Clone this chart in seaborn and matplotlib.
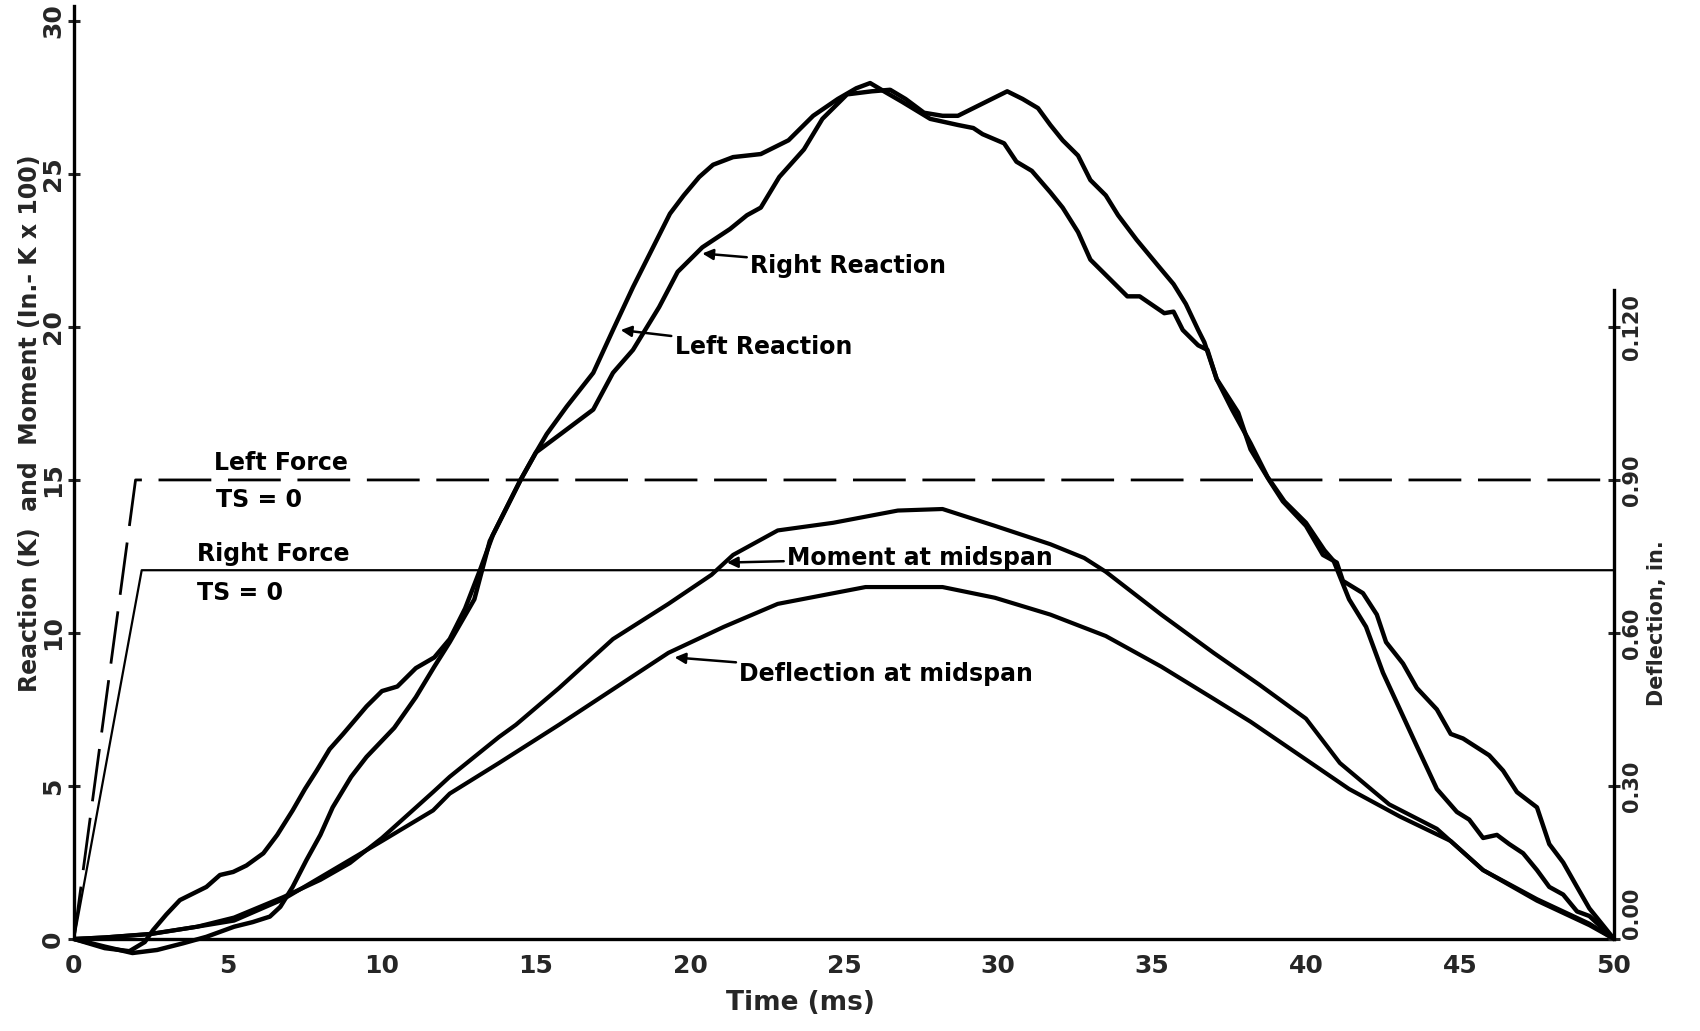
import matplotlib
matplotlib.use('Agg')
import matplotlib.pyplot as plt
import seaborn as sns
import numpy as np

sns.set_style("white")
plt.rcParams['font.family'] = ['DejaVu Sans']

# ── data ───────────────────────────────────────────────────
# time in ms, reactions / moment on left scale (K and In.-K x 100)
left_t = [0, 1.0, 1.8, 2.3, 2.57, 3.0, 3.44, 4.3, 4.74, 5.17, 5.6, 6.15, 6.6, 7.1, 7.5,
          7.88, 8.3, 8.74, 9.5, 10.0, 10.5, 11.1, 11.7, 12.2, 12.7, 13.2, 13.6, 14.5, 15.0,
          15.35, 16.0, 16.86, 17.5, 18.15, 18.6, 19.35, 19.8, 20.3, 20.75, 21.4, 22.3, 23.2,
          24.0, 24.8, 25.4, 25.85, 26.3, 26.9, 27.8, 28.7, 29.2, 29.5, 30.2, 30.6, 31.1,
          31.7, 32.1, 32.6, 33.0, 33.6, 34.2, 34.6, 35.4, 35.7, 36.0, 36.5, 36.8, 37.1,
          37.6, 38.2, 38.75, 39.3, 40.0, 40.6, 40.9, 41.4, 41.95, 42.5, 43.05, 43.6, 44.25,
          44.9, 45.3, 45.75, 46.2, 46.6, 47.05, 47.5, 47.9, 48.35, 48.8, 49.2, 50]
left_reaction = [0, -0.3, -0.4, -0.1, 0.29, 0.8, 1.27, 1.7, 2.09, 2.19, 2.4, 2.8, 3.4, 4.2,
                 4.9, 5.5, 6.2, 6.7, 7.6, 8.1, 8.25, 8.85, 9.2, 9.8, 10.8, 12.1, 13.2, 15.0,
                 15.9, 16.5, 17.4, 18.5, 19.9, 21.3, 22.2, 23.7, 24.3, 24.9, 25.3, 25.55,
                 25.65, 26.1, 26.9, 27.45, 27.8, 27.97, 27.7, 27.35, 26.8, 26.6, 26.5, 26.3,
                 26.0, 25.4, 25.1, 24.4, 23.9, 23.1, 22.2, 21.6, 21.0, 21.0, 20.45, 20.5,
                 19.9, 19.4, 19.25, 18.3, 17.3, 16.2, 15.1, 14.3, 13.6, 12.7, 12.35, 11.1,
                 10.2, 8.7, 7.5, 6.3, 4.9, 4.15, 3.9, 3.3, 3.4, 3.1, 2.8, 2.25, 1.7, 1.45,
                 0.9, 0.75, 0]

right_t = [0, 1.0, 1.9, 2.7, 3.55, 4.3, 5.2, 5.8, 6.36, 6.7, 7.1, 7.55, 8.0, 8.4, 9.0, 9.5,
           10.4, 11.1, 11.7, 12.2, 13.0, 13.5, 14.5, 15.0, 15.8, 16.86, 17.5, 18.15, 19.0,
           19.6, 20.4, 21.3, 21.85, 22.3, 22.9, 23.7, 24.3, 25.1, 25.9, 26.5, 27.0, 27.6,
           28.2, 28.7, 29.1, 29.7, 30.3, 30.8, 31.3, 31.7, 32.1, 32.6, 33.0, 33.5, 33.9,
           34.5, 35.2, 35.7, 36.1, 36.5, 36.7, 37.1, 37.8, 38.2, 38.8, 39.25, 40.0, 40.55,
           41.0, 41.2, 41.85, 42.3, 42.6, 43.15, 43.6, 44.25, 44.7, 45.1, 45.95, 46.4, 46.85,
           47.5, 47.9, 48.35, 48.8, 49.2, 50]
right_reaction = [0, -0.25, -0.46, -0.36, -0.14, 0.07, 0.4, 0.55, 0.73, 1.05, 1.7, 2.58,
                  3.4, 4.3, 5.3, 5.95, 6.9, 7.9, 8.9, 9.7, 11.1, 13.0, 15.0, 15.9, 16.5,
                  17.3, 18.5, 19.25, 20.65, 21.8, 22.6, 23.2, 23.65, 23.9, 24.9, 25.8, 26.8,
                  27.6, 27.7, 27.75, 27.45, 27.0, 26.9, 26.9, 27.1, 27.4, 27.7, 27.45, 27.15,
                  26.6, 26.1, 25.6, 24.8, 24.3, 23.65, 22.85, 22.0, 21.4, 20.75, 19.9, 19.5,
                  18.3, 17.2, 16.0, 15.0, 14.3, 13.5, 12.55, 12.3, 11.7, 11.3, 10.6, 9.7, 9.0,
                  8.2, 7.5, 6.7, 6.55, 6.0, 5.5, 4.8, 4.3, 3.1, 2.5, 1.7, 1.0, 0]

moment_t = [0, 1, 2.5, 4, 5.2, 6.8, 8.0, 8.96, 10.0, 11.66, 12.2, 13.8, 14.35, 15.75, 17.5,
            19.3, 20.7, 21.4, 22.85, 24.65, 26.75, 28.2, 29.9, 31.7, 32.8, 33.5, 35.3, 37.0,
            38.5, 40.0, 41.1, 42.7, 44.25, 45.75, 47.5, 49.2, 50]
moment = [0, 0.05, 0.16, 0.4, 0.7, 1.37, 1.93, 2.48, 3.3, 4.8, 5.3, 6.6, 7.0, 8.2, 9.8,
          10.95, 11.9, 12.55, 13.35, 13.6, 14.0, 14.05, 13.5, 12.9, 12.45, 12.0, 10.6, 9.35,
          8.3, 7.2, 5.75, 4.4, 3.6, 2.25, 1.3, 0.5, 0]

# deflection in inches (right scale)
defl_t = [0, 1, 2.5, 4, 5.2, 6.8, 8.4, 10.0, 11.66, 12.2, 13.8, 15.75, 19.3, 21.1, 22.85,
          25.7, 28.2, 29.9, 31.7, 33.5, 35.3, 37.0, 38.2, 39.8, 41.4, 43.05, 44.7, 45.75,
          47.5, 49.2, 50]
deflection = [0, 0.0003, 0.001, 0.0024, 0.0036, 0.0078, 0.0135, 0.0192, 0.0252, 0.0285,
              0.0345, 0.042, 0.0561, 0.0612, 0.0657, 0.069, 0.069, 0.0669, 0.0636, 0.0594,
              0.0534, 0.0471, 0.0426, 0.036, 0.0294, 0.024, 0.0192, 0.0135, 0.0075, 0.0027, 0]

left_force_t = [0, 2.0, 50]
left_force = [0, 15.0, 15.0]
right_force_t = [0, 2.2, 50]
right_force = [0, 12.05, 12.05]

x_ticks = [0, 5, 10, 15, 20, 25, 30, 35, 40, 45, 50]
y_ticks = [0, 5, 10, 15, 20, 25, 30]
defl_ticks = [0.0, 0.03, 0.06, 0.09, 0.12]
defl_labels = ["0.00", "0.30", "0.60", "0.90", "0.120"]

IN_PER_UNIT = 0.006   # 5 units on the left = 0.03 in. on the right
YMIN, YMAX = -1.0, 30.6

# ── figure ─────────────────────────────────────────────────
fig = plt.figure(figsize=(17, 10.31), dpi=100)
ax = fig.add_axes([0.0435, 0.0596, 0.9059, 0.9379])
ax2 = ax.twinx()

lw_main = 3.2
sns.lineplot(x=left_t, y=left_reaction, ax=ax, color="black", lw=lw_main, sort=False, estimator=None)
sns.lineplot(x=right_t, y=right_reaction, ax=ax, color="black", lw=lw_main, sort=False, estimator=None)
sns.lineplot(x=moment_t, y=moment, ax=ax, color="black", lw=3.0, sort=False, estimator=None)
sns.lineplot(x=defl_t, y=deflection, ax=ax2, color="black", lw=3.0, sort=False, estimator=None)
sns.lineplot(x=left_force_t, y=left_force, ax=ax, color="black", lw=2.0, sort=False,
             estimator=None, dashes=False, linestyle=(0, (19, 6)))
sns.lineplot(x=right_force_t, y=right_force, ax=ax, color="black", lw=1.6, sort=False, estimator=None)

ax.set_xlim(0, 50)
ax.set_ylim(YMIN, YMAX)
ax2.set_ylim(YMIN * IN_PER_UNIT, YMAX * IN_PER_UNIT)

# spines
for a in (ax, ax2):
    a.spines["top"].set_visible(False)
    for s in a.spines.values():
        s.set_linewidth(2.4)
        s.set_color("black")
ax.spines["right"].set_visible(False)
ax2.spines["left"].set_visible(False)
ax2.spines["bottom"].set_visible(False)
ax.spines["bottom"].set_position(("data", 0))
ax.spines["bottom"].set_bounds(0, 50)
ax.spines["left"].set_bounds(0, 30.5)
ax2.spines["right"].set_bounds(0, 21.2 * IN_PER_UNIT)

ax.set_xticks(x_ticks)
ax.set_yticks(y_ticks)
ax2.set_yticks(defl_ticks)
ax2.set_yticklabels(defl_labels)

ax.tick_params(axis="x", direction="inout", length=9, width=2.2, pad=6, labelsize=18)
ax.tick_params(axis="y", direction="inout", length=9, width=2.2, pad=2, labelsize=18, labelrotation=90)
ax2.tick_params(axis="y", direction="inout", length=9, width=2.2, pad=1, labelsize=15, labelrotation=90)
plt.setp(ax.get_yticklabels(), va="center")
plt.setp(ax2.get_yticklabels(), va="center")
# lowest deflection label sits just above the "50" tick label
ax2.get_yticklabels()[0].set_va("bottom")
for lab in ax.get_xticklabels() + ax.get_yticklabels() + ax2.get_yticklabels():
    lab.set_fontweight("bold")

ax.set_xlabel("")
ax.set_ylabel("")
ax2.set_ylabel("")
ax.grid(False)
ax2.grid(False)

# axis titles
fig.text(800 / 1700, 1 - 1003 / 1031, "Time (ms)", ha="center", va="center",
         fontsize=19, fontweight="bold")
fig.text(30 / 1700, 1 - 423 / 1031, "Reaction (K)  and  Moment (In.- K x 100)",
         rotation=90, ha="center", va="center", fontsize=17, fontweight="bold")
fig.text(1657 / 1700, 1 - 623 / 1031, "Deflection, in.", rotation=90,
         ha="center", va="center", fontsize=15, fontweight="bold")

# force labels
tk = dict(fontsize=17, fontweight="bold", color="black")
ax.text(4.55, 15.15, "Left Force", ha="left", va="bottom", **tk)
ax.text(4.6, 14.75, "TS = 0", ha="left", va="top", **tk)
ax.text(4.0, 12.2, "Right Force", ha="left", va="bottom", **tk)
ax.text(4.0, 11.7, "TS = 0", ha="left", va="top", **tk)

# curve labels with arrows
arr = dict(arrowstyle="-|>", color="black", lw=1.8, mutation_scale=16, shrinkA=0, shrinkB=0)
ax.annotate("Right Reaction", xy=(20.4, 22.4), xytext=(21.95, 22.0),
            ha="left", va="center", arrowprops=arr, **tk)
ax.annotate("Left Reaction", xy=(17.75, 19.9), xytext=(19.5, 19.35),
            ha="left", va="center", arrowprops=arr, **tk)
ax.annotate("Moment at midspan", xy=(21.2, 12.3), xytext=(23.15, 12.45),
            ha="left", va="center", arrowprops=arr, **tk)
ax.annotate("Deflection at midspan", xy=(19.5, 9.2), xytext=(21.6, 8.65),
            ha="left", va="center", arrowprops=arr, **tk)

plt.savefig("out.png", dpi=100)
plt.close()
